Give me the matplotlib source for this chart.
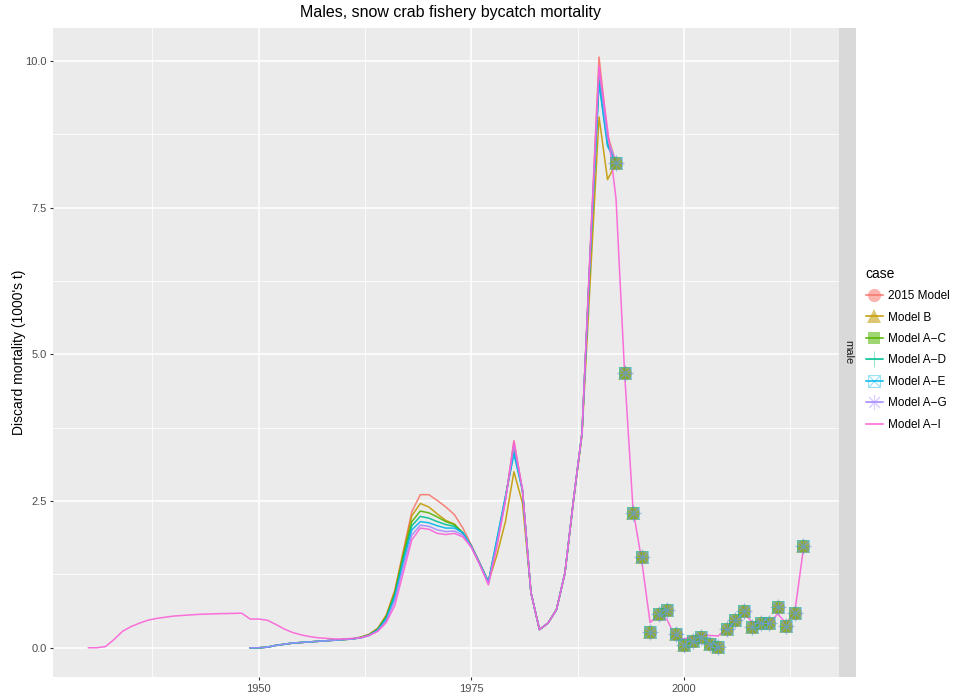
import numpy as np
import matplotlib
matplotlib.use("Agg")
import matplotlib.pyplot as plt
from matplotlib.lines import Line2D
from matplotlib.path import Path
from matplotlib.colors import to_rgba
from matplotlib.ticker import MultipleLocator, FormatStrFormatter

plt.rcParams["font.family"] = ["Liberation Sans", "DejaVu Sans"]

cases = ["2015 Model", "Model B", "Model A\u2212C", "Model A\u2212D",
         "Model A\u2212E", "Model A\u2212G", "Model A\u2212I"]
colors = ["#F8766D", "#C49A00", "#53B400", "#00C094", "#00B6EB", "#A58AFF", "#FB61D7"]

# model years for the first six cases (1949-1992)
years_models = np.arange(1949, 1993)
early_common = [0.00, 0.00, 0.01, 0.04, 0.06, 0.08, 0.09, 0.10, 0.11, 0.12, 0.13, 0.14, 0.15]

mort_2015 = early_common + [0.18, 0.23, 0.33, 0.56, 0.98, 1.65, 2.32,
                            2.61, 2.61, 2.51, 2.40, 2.27, 2.04, 1.75, 1.44, 1.13,
                            1.76, 2.52, 3.53, 2.69, 0.94, 0.31, 0.42, 0.65, 1.28, 2.52, 3.66,
                            6.90, 10.07, 8.75, 8.26]
mort_b = early_common + [0.18, 0.23, 0.33, 0.55, 0.96, 1.62, 2.25,
                         2.46, 2.40, 2.28, 2.17, 2.11, 1.95, 1.73, 1.43, 1.12,
                         1.58, 2.15, 3.00, 2.47, 0.94, 0.31, 0.42, 0.65, 1.27, 2.50, 3.62,
                         6.35, 9.05, 7.98, 8.26]
mort_ac = early_common + [0.18, 0.22, 0.32, 0.53, 0.93, 1.58, 2.15,
                          2.33, 2.30, 2.23, 2.15, 2.10, 1.96, 1.73, 1.43, 1.12,
                          1.80, 2.55, 3.38, 2.69, 0.94, 0.31, 0.42, 0.65, 1.28, 2.52, 3.66,
                          6.80, 9.72, 8.60, 8.26]
mort_ad = early_common + [0.17, 0.22, 0.31, 0.51, 0.90, 1.52, 2.08,
                          2.24, 2.21, 2.15, 2.10, 2.07, 1.96, 1.73, 1.43, 1.12,
                          1.83, 2.57, 3.35, 2.69, 0.94, 0.31, 0.42, 0.65, 1.28, 2.52, 3.66,
                          6.80, 9.68, 8.58, 8.26]
mort_ae = early_common + [0.17, 0.21, 0.30, 0.49, 0.86, 1.46, 2.01,
                          2.15, 2.13, 2.08, 2.04, 2.04, 1.96, 1.73, 1.43, 1.12,
                          1.86, 2.58, 3.30, 2.68, 0.94, 0.31, 0.42, 0.65, 1.28, 2.52, 3.66,
                          6.80, 9.62, 8.55, 8.26]
mort_ag = early_common + [0.17, 0.21, 0.29, 0.46, 0.80, 1.38, 1.92,
                          2.09, 2.07, 2.01, 1.98, 1.99, 1.92, 1.72, 1.42, 1.10,
                          1.78, 2.53, 3.45, 2.69, 0.94, 0.31, 0.42, 0.65, 1.28, 2.52, 3.66,
                          6.85, 9.85, 8.68, 8.26]

# Model A-I runs 1930-2014
years_ai = np.arange(1930, 2015)
mort_ai = [0.00, 0.00, 0.02, 0.14, 0.28, 0.36, 0.42, 0.47, 0.50, 0.52,
           0.54, 0.55, 0.56, 0.57, 0.575, 0.58, 0.583, 0.586, 0.59,
           0.49, 0.49, 0.47, 0.40, 0.32, 0.26, 0.22, 0.19, 0.17, 0.16, 0.15, 0.15, 0.16,
           0.17, 0.21, 0.28, 0.43, 0.72, 1.28, 1.84,
           2.04, 2.02, 1.95, 1.93, 1.95, 1.89, 1.71, 1.41, 1.07,
           1.72, 2.50, 3.52, 2.70, 0.94, 0.31, 0.42, 0.65, 1.28, 2.52, 3.66,
           6.90, 9.92, 8.85, 7.65,
           4.70, 2.35, 1.50, 0.43, 0.56, 0.48, 0.17, 0.15, 0.19, 0.23, 0.21, 0.20,
           0.34, 0.48, 0.61, 0.43, 0.43, 0.41, 0.58, 0.41, 0.60, 1.67]

# observed points shown for the six marked cases
years_obs = np.arange(1992, 2015)
obs = [8.26, 4.68, 2.29, 1.55, 0.27, 0.58, 0.65, 0.24, 0.05, 0.11, 0.19, 0.07,
       0.02, 0.32, 0.48, 0.62, 0.35, 0.43, 0.43, 0.70, 0.37, 0.60, 1.73]

boxed_x = Path([(-1, -1), (1, -1), (1, 1), (-1, 1), (-1, -1), (-1, -1), (1, 1), (-1, 1), (1, -1)],
               [Path.MOVETO, Path.LINETO, Path.LINETO, Path.LINETO, Path.CLOSEPOLY,
                Path.MOVETO, Path.LINETO, Path.MOVETO, Path.LINETO])
markers = [("o", 9.5, True), ("^", 9.5, True), ("s", 9, True), ("+", 11, False),
           (boxed_x, 8.5, False), ((8, 2, 0), 11, False)]

series = [mort_2015, mort_b, mort_ac, mort_ad, mort_ae, mort_ag]

fig = plt.figure(figsize=(9.62, 6.96), dpi=100)
W, H = 962, 696
ax = fig.add_axes([52.7 / W, 1 - 677.3 / H, (839 - 52.7) / W, (677.3 - 27.5) / H])
ax.set_facecolor("#EBEBEB")
for s in ax.spines.values():
    s.set_visible(False)

for vals, col in zip(series, colors):
    ax.plot(years_models, vals, color=col, lw=1.1, alpha=0.9, zorder=2)
ax.plot(years_ai, mort_ai, color=colors[6], lw=1.1, alpha=0.9, zorder=2)

handles = []
for (mk, ms, filled), col in zip(markers, colors):
    mcol = to_rgba(col, 0.55 if filled else 0.4)
    ax.plot(years_obs, obs, ls="none", marker=mk, ms=ms,
            markerfacecolor=mcol if filled else "none", markeredgecolor=mcol,
            markeredgewidth=0 if filled else 0.8, zorder=3)
    handles.append(Line2D([], [], color=col, lw=1.1, marker=mk, ms=ms,
                          markerfacecolor=mcol if filled else "none", markeredgecolor=mcol,
                          markeredgewidth=0 if filled else 0.8))
handles.append(Line2D([], [], color=colors[6], lw=1.1))

ax.set_xlim(1925.8, 2018.2)
ax.set_ylim(-0.5035, 10.5735)
ax.xaxis.set_major_locator(MultipleLocator(25))
ax.xaxis.set_minor_locator(MultipleLocator(12.5))
ax.yaxis.set_major_locator(MultipleLocator(2.5))
ax.yaxis.set_minor_locator(MultipleLocator(1.25))
ax.yaxis.set_major_formatter(FormatStrFormatter("%.1f"))
ax.grid(which="major", color="white", lw=1.1, zorder=0)
ax.grid(which="minor", color="white", lw=0.55, zorder=0)
ax.set_axisbelow(True)
ax.tick_params(which="major", length=2.5, width=0.8, color="#333333",
               labelcolor="#4D4D4D", labelsize=8, pad=2)
ax.tick_params(which="minor", length=0)
ax.set_ylabel("Discard mortality (1000's t)", fontsize=10, labelpad=-1)

strip = fig.add_axes([839.5 / W, 1 - 677.3 / H, 17 / W, (677.3 - 27.5) / H])
strip.set_facecolor("#D9D9D9")
strip.set_xticks([])
strip.set_yticks([])
for s in strip.spines.values():
    s.set_visible(False)
strip.text(0.5, 0.5, "male", rotation=-90, ha="center", va="center",
           fontsize=8, color="#1A1A1A", transform=strip.transAxes)

fig.text(450 / W, 1 - 13 / H, "Males, snow crab fishery bycatch mortality",
         ha="center", va="center", fontsize=11.5)

leg = fig.legend(handles, cases, loc="upper left", bbox_to_anchor=(855 / W, 1 - 256 / H),
                 title="case", frameon=False, fontsize=8.5, title_fontsize=10,
                 handlelength=1.5, labelspacing=0.8, handletextpad=0.4,
                 alignment="left")

fig.savefig("out.png", dpi=100)
